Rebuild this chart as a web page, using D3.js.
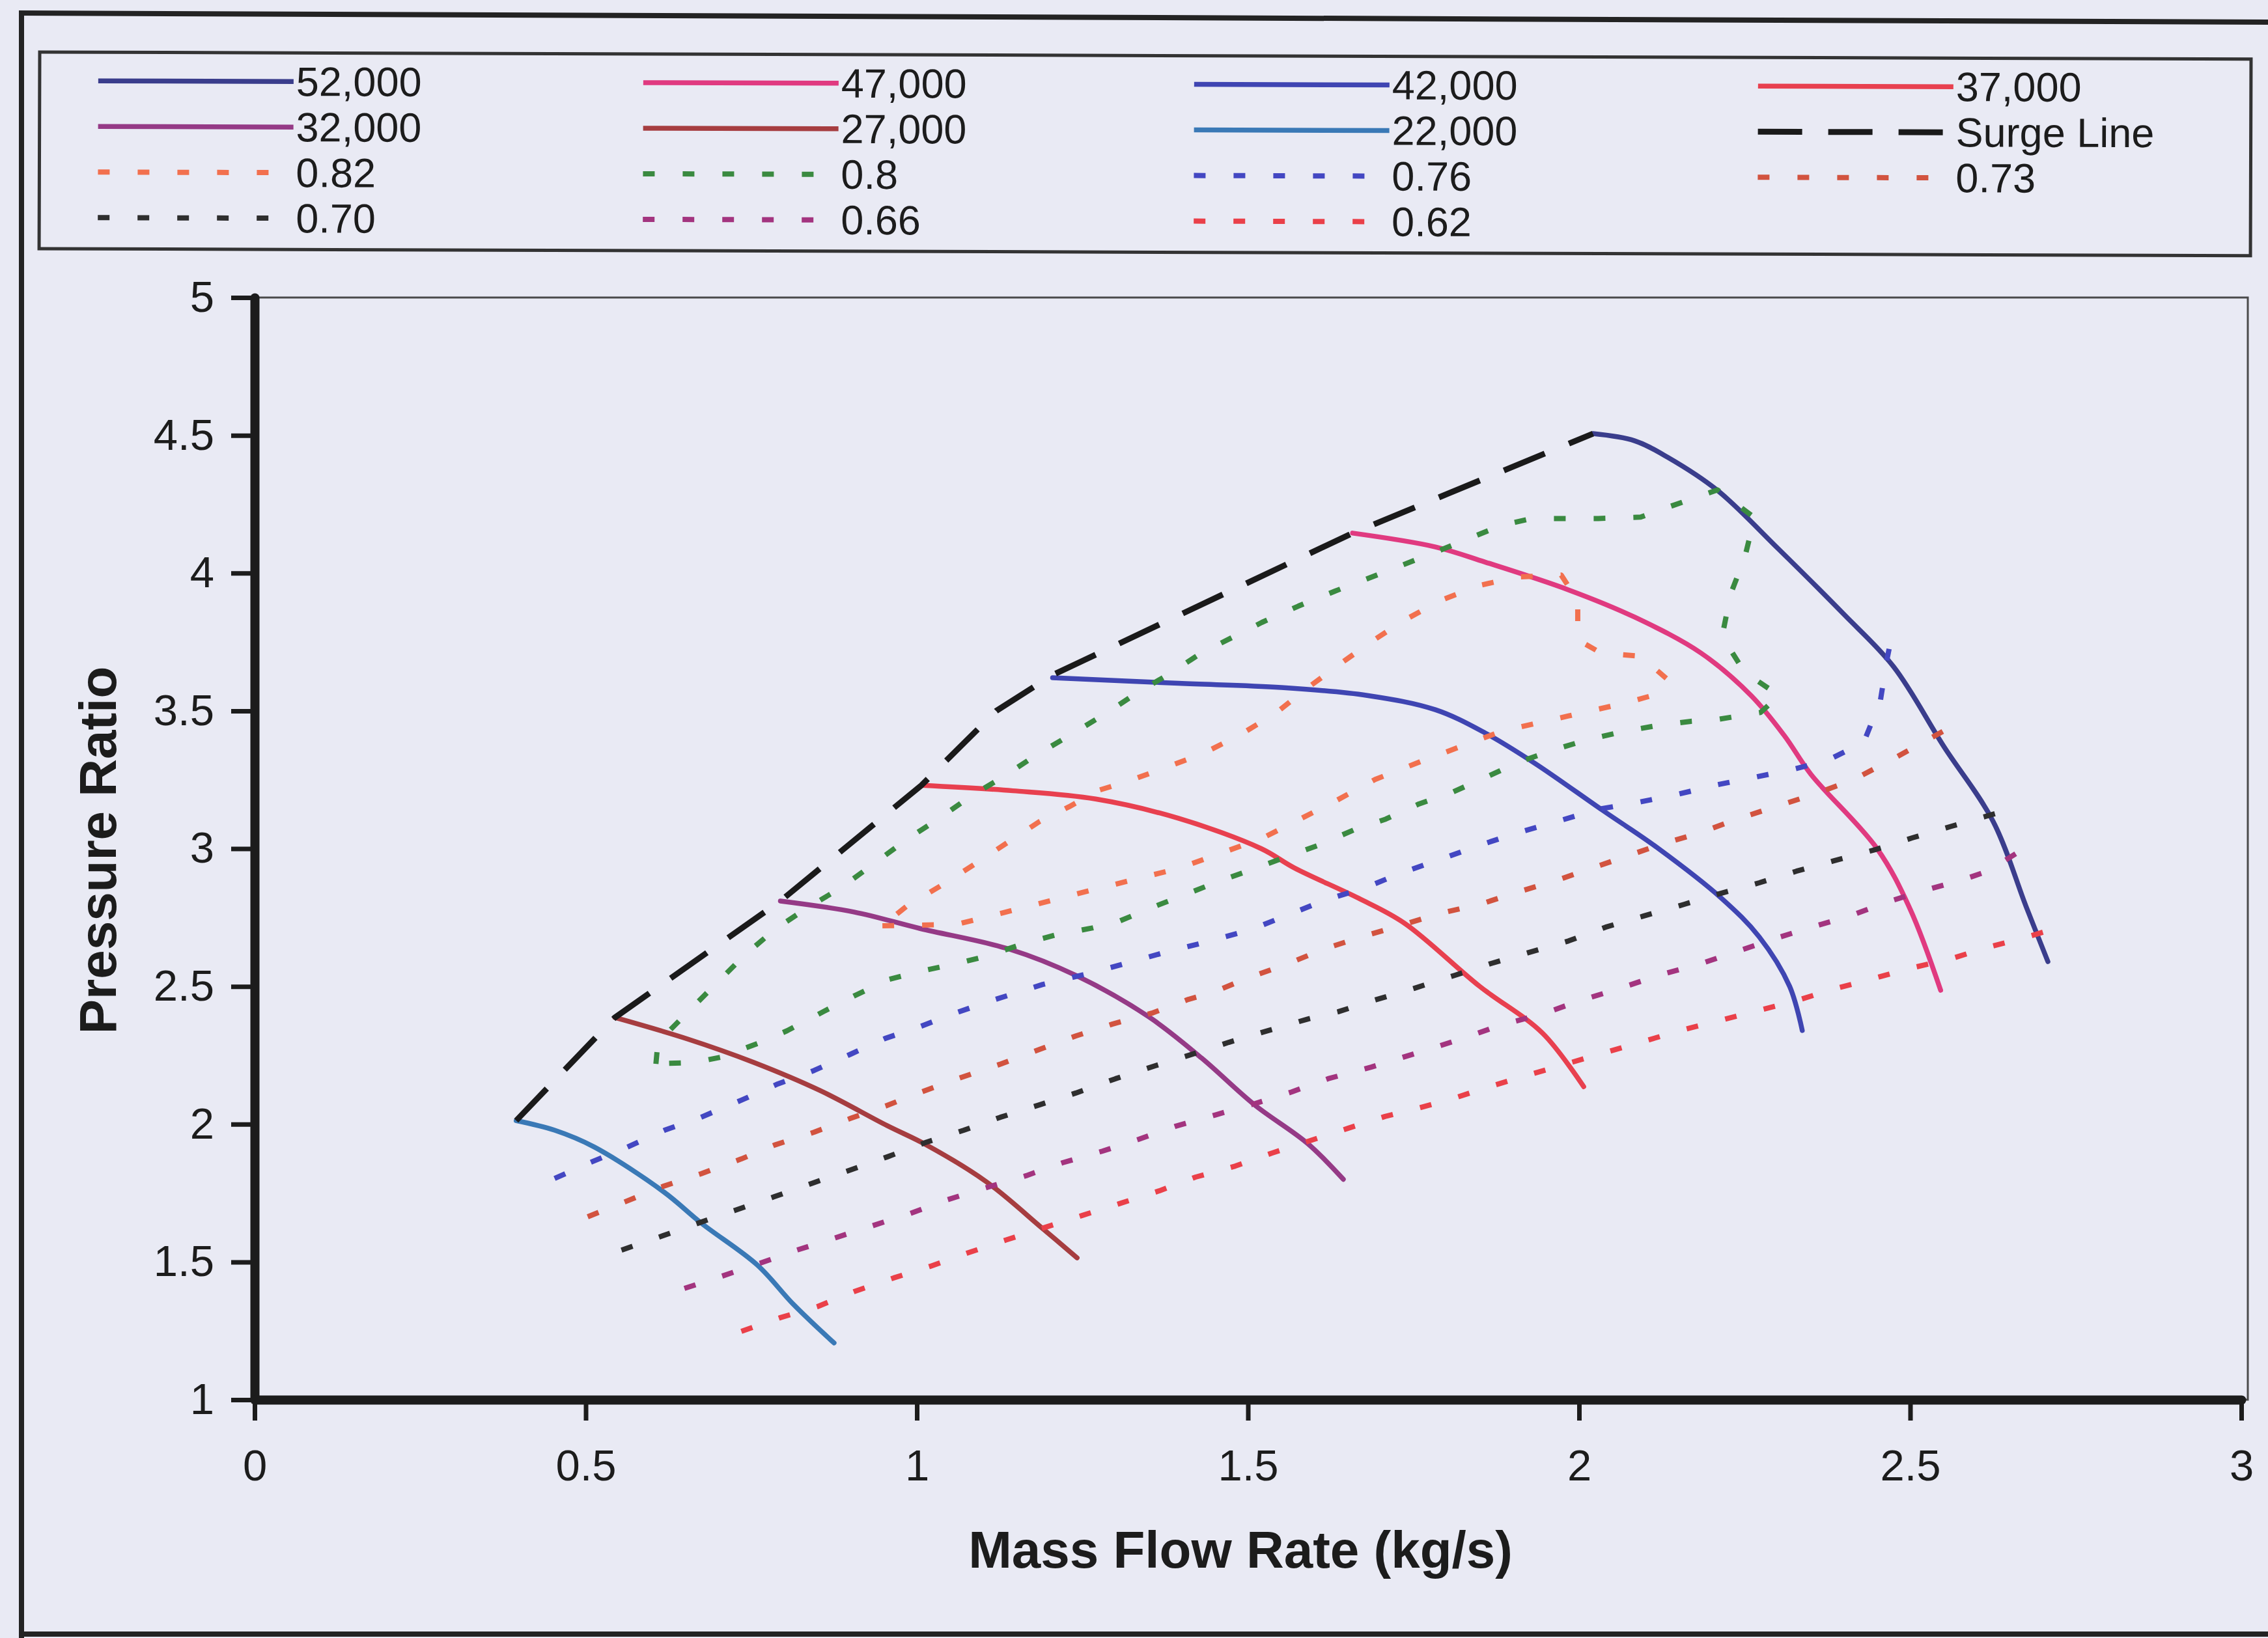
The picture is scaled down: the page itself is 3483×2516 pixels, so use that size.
<!DOCTYPE html>
<html>
<head>
<meta charset="utf-8">
<script src="https://cdn.jsdelivr.net/npm/d3@7"></script>
<style>
  html, body { margin: 0; padding: 0; background: #e9eaf4; }
  svg { display: block; }
  text { font-family: "Liberation Sans", Arial, Helvetica, sans-serif; fill: #1c1c1c; }
</style>
</head>
<body>
<svg id="chart" width="3483" height="2516"></svg>
<script>
// Compressor map: pressure ratio vs. mass flow rate, speed lines (rpm),
// surge line and iso-efficiency contours.

// ---- axis ticks ----
const xTicks = [0, 0.5, 1, 1.5, 2, 2.5, 3];
const xTickLabels = ["0", "0.5", "1", "1.5", "2", "2.5", "3"];
const yTicks = [1, 1.5, 2, 2.5, 3, 3.5, 4, 4.5, 5];
const yTickLabels = ["1", "1.5", "2", "2.5", "3", "3.5", "4", "4.5", "5"];

// ---- speed lines [mass flow kg/s, pressure ratio] ----
const speed52000 = [[2.021,4.506],[2.084,4.48],[2.134,4.42],[2.209,4.30],[2.30,4.09],[2.40,3.85],[2.475,3.66],[2.551,3.37],[2.625,3.10],[2.675,2.79],[2.708,2.59]];
const speed47000 = [[1.658,4.145],[1.783,4.095],[1.858,4.04],[1.983,3.94],[2.084,3.84],[2.184,3.71],[2.26,3.555],[2.31,3.41],[2.35,3.27],[2.45,3.0],[2.5,2.78],[2.546,2.486]];
const speed42000 = [[1.205,3.62],[1.395,3.60],[1.55,3.585],[1.68,3.556],[1.783,3.504],[1.858,3.42],[1.933,3.31],[2.035,3.14],[2.12,3.0],[2.215,2.82],[2.272,2.68],[2.318,2.50],[2.337,2.34]];
const speed37000 = [[1.007,3.23],[1.145,3.21],[1.27,3.18],[1.395,3.11],[1.52,3.0],[1.57,2.93],[1.667,2.82],[1.736,2.73],[1.85,2.50],[1.945,2.33],[2.007,2.136]];
const speed32000 = [[0.794,2.81],[0.905,2.77],[1.005,2.71],[1.14,2.635],[1.24,2.54],[1.35,2.39],[1.43,2.24],[1.51,2.07],[1.59,1.93],[1.644,1.80]];
const speed27000 = [[0.544,2.387],[0.654,2.309],[0.754,2.224],[0.854,2.122],[0.955,1.995],[1.015,1.924],[1.105,1.791],[1.19,1.621],[1.242,1.515]];
const speed22000 = [[0.395,2.013],[0.453,1.978],[0.513,1.917],[0.618,1.754],[0.675,1.640],[0.759,1.489],[0.814,1.345],[0.875,1.206]];

// ---- surge line ----
const surgeLine = [[0.395,2.013],[0.544,2.387],[0.794,2.81],[1.007,3.23],[1.12,3.50],[1.205,3.63],[1.658,4.145],[2.021,4.506]];

// ---- iso-efficiency contours ----
const eff082 = [[0.948,2.72],[1.06,2.725],[1.13,2.767],[1.265,2.85],[1.395,2.928],[1.521,3.037],[1.627,3.166],[1.692,3.251],[1.763,3.318],[1.883,3.426],[1.983,3.481],[2.069,3.528],[2.114,3.558],[2.134,3.613],[2.093,3.698],[2.033,3.71],[1.998,3.758],[1.998,3.90],[1.973,3.993],[1.908,3.986],[1.853,3.957],[1.793,3.903],[1.737,3.83],[1.687,3.752],[1.636,3.665],[1.591,3.585],[1.541,3.49],[1.486,3.41],[1.431,3.344],[1.371,3.29],[1.316,3.242],[1.275,3.212],[1.23,3.152],[1.185,3.098],[1.135,3.019],[1.085,2.94],[1.034,2.862],[0.984,2.79],[0.948,2.72]];
const eff080 = [[0.606,2.219],[0.609,2.297],[0.644,2.382],[0.689,2.491],[0.739,2.611],[0.785,2.706],[0.835,2.786],[0.885,2.857],[0.935,2.945],[0.984,3.032],[1.034,3.11],[1.08,3.188],[1.13,3.26],[1.18,3.339],[1.23,3.41],[1.285,3.49],[1.33,3.561],[1.381,3.634],[1.431,3.712],[1.486,3.778],[1.521,3.821],[1.576,3.88],[1.632,3.935],[1.682,3.981],[1.713,4.01],[1.778,4.071],[1.833,4.125],[1.883,4.173],[1.928,4.198],[2.029,4.198],[2.093,4.203],[2.139,4.243],[2.209,4.302],[2.265,4.201],[2.25,4.055],[2.229,3.925],[2.216,3.77],[2.25,3.64],[2.302,3.556],[2.274,3.494],[2.209,3.469],[2.169,3.462],[2.114,3.445],[2.069,3.426],[2.014,3.396],[1.964,3.36],[1.908,3.313],[1.863,3.263],[1.808,3.204],[1.758,3.162],[1.708,3.107],[1.662,3.07],[1.606,3.012],[1.566,2.977],[1.505,2.923],[1.461,2.886],[1.405,2.833],[1.36,2.791],[1.305,2.736],[1.265,2.712],[1.21,2.687],[1.165,2.658],[1.104,2.609],[1.064,2.585],[1.004,2.554],[0.957,2.525],[0.905,2.465],[0.86,2.41],[0.804,2.339],[0.764,2.297],[0.704,2.243],[0.664,2.224],[0.606,2.219]];
const eff076 = [[0.453,1.803],[0.508,1.862],[0.563,1.917],[0.619,1.978],[0.674,2.025],[0.735,2.087],[0.79,2.146],[0.845,2.195],[0.90,2.254],[0.952,2.311],[1.005,2.354],[1.06,2.405],[1.115,2.45],[1.19,2.507],[1.265,2.55],[1.325,2.59],[1.38,2.627],[1.44,2.663],[1.505,2.706],[1.566,2.765],[1.619,2.815],[1.677,2.858],[1.733,2.913],[1.793,2.963],[1.847,3.01],[1.908,3.058],[1.969,3.10],[2.029,3.143],[2.089,3.168],[2.149,3.197],[2.209,3.232],[2.267,3.26],[2.32,3.286],[2.375,3.32],[2.43,3.386],[2.455,3.537],[2.465,3.687],[2.475,3.806]];
const eff073 = [[0.503,1.664],[0.559,1.718],[0.614,1.772],[0.674,1.82],[0.735,1.874],[0.785,1.924],[0.845,1.971],[0.90,2.021],[0.955,2.068],[1.007,2.117],[1.064,2.167],[1.125,2.217],[1.185,2.271],[1.24,2.32],[1.295,2.363],[1.355,2.403],[1.41,2.453],[1.445,2.476],[1.50,2.531],[1.556,2.578],[1.614,2.635],[1.676,2.683],[1.736,2.725],[1.79,2.765],[1.853,2.80],[1.908,2.843],[1.964,2.883],[2.014,2.925],[2.069,2.97],[2.124,3.016],[2.181,3.056],[2.236,3.105],[2.30,3.155],[2.355,3.197],[2.415,3.251],[2.47,3.32],[2.525,3.393],[2.58,3.467]];
const eff070 = [[0.554,1.543],[0.614,1.593],[0.669,1.64],[0.725,1.687],[0.785,1.737],[0.84,1.784],[0.90,1.834],[0.955,1.881],[1.015,1.935],[1.071,1.978],[1.126,2.025],[1.185,2.07],[1.24,2.113],[1.30,2.165],[1.36,2.212],[1.411,2.25],[1.471,2.297],[1.531,2.34],[1.591,2.382],[1.636,2.408],[1.691,2.45],[1.751,2.493],[1.812,2.54],[1.867,2.583],[1.92,2.62],[1.984,2.665],[2.04,2.715],[2.097,2.755],[2.159,2.798],[2.21,2.835],[2.272,2.876],[2.328,2.918],[2.385,2.956],[2.447,2.996],[2.503,3.039],[2.562,3.081],[2.63,3.128]];
const eff066 = [[0.649,1.404],[0.704,1.447],[0.764,1.496],[0.819,1.543],[0.875,1.586],[0.935,1.633],[0.99,1.676],[1.045,1.725],[1.10,1.766],[1.165,1.813],[1.22,1.86],[1.28,1.902],[1.335,1.945],[1.39,1.992],[1.45,2.033],[1.511,2.075],[1.566,2.117],[1.621,2.165],[1.686,2.207],[1.772,2.271],[1.827,2.313],[1.882,2.36],[1.945,2.40],[2.001,2.448],[2.058,2.49],[2.12,2.54],[2.182,2.581],[2.233,2.622],[2.295,2.673],[2.351,2.715],[2.408,2.755],[2.464,2.805],[2.52,2.847],[2.583,2.89],[2.617,2.918],[2.685,3.02]];
const eff062 = [[0.735,1.248],[0.794,1.298],[0.85,1.338],[0.905,1.392],[0.965,1.442],[1.02,1.484],[1.076,1.532],[1.135,1.58],[1.25,1.669],[1.305,1.711],[1.366,1.758],[1.421,1.808],[1.481,1.848],[1.536,1.895],[1.591,1.938],[1.651,1.985],[1.707,2.028],[1.751,2.054],[1.807,2.091],[1.862,2.134],[1.92,2.176],[2.035,2.257],[2.097,2.30],[2.153,2.34],[2.215,2.378],[2.272,2.413],[2.328,2.448],[2.385,2.491],[2.441,2.526],[2.497,2.564],[2.56,2.599],[2.617,2.642],[2.673,2.677],[2.73,2.718]];

// ---- series names (legend order = drawing order) ----
const seriesNames = ["52,000","47,000","42,000","37,000","32,000","27,000","22,000","Surge Line",
                     "0.82","0.8","0.76","0.73","0.70","0.66","0.62"];
const seriesValues = [speed52000, speed47000, speed42000, speed37000, speed32000, speed27000, speed22000, surgeLine,
                      eff082, eff080, eff076, eff073, eff070, eff066, eff062];

// ---- appearance per series ----
const SOLID = "speed", SURGE = "surge", DOT = "eff";
const seriesStyle = {
  "52,000": {type: SOLID, color: "#3a3d8c"},
  "47,000": {type: SOLID, color: "#e03a80"},
  "42,000": {type: SOLID, color: "#3f45b2"},
  "37,000": {type: SOLID, color: "#e8404f"},
  "32,000": {type: SOLID, color: "#953a86"},
  "27,000": {type: SOLID, color: "#a63d40"},
  "22,000": {type: SOLID, color: "#3a79b6"},
  "Surge Line": {type: SURGE, color: "#1a1a1a"},
  "0.82": {type: DOT, color: "#f2704e"},
  "0.8":  {type: DOT, color: "#3a8a40"},
  "0.76": {type: DOT, color: "#4347c2"},
  "0.73": {type: DOT, color: "#d2533f"},
  "0.70": {type: DOT, color: "#2e2e2e"},
  "0.66": {type: DOT, color: "#a3347f"},
  "0.62": {type: DOT, color: "#ea4049"}
};
const strokeFor = {
  [SOLID]: {width: 7.5, dash: null},
  [SURGE]: {width: 9, dash: "68 40"},
  [DOT]:   {width: 8, dash: "18 43"}
};

const W = 3483, H = 2516;
const svg = d3.select("#chart");
svg.append("rect").attr("width", W).attr("height", H).attr("fill", "#e9eaf4");

// outer frame of the chart area
const frame = svg.append("g").attr("stroke", "#232323").attr("stroke-width", 8).attr("fill", "none");
frame.append("line").attr("x1", 33).attr("y1", 18).attr("x2", 33).attr("y2", H);
frame.append("line").attr("x1", 29).attr("y1", 20).attr("x2", W).attr("y2", 34);
frame.append("line").attr("x1", 29).attr("y1", 2510).attr("x2", W).attr("y2", 2510);

// scales
const x = d3.scaleLinear().domain([0, 3]).range([391, 3442]);
const y = d3.scaleLinear().domain([1, 5]).range([2150, 457]);

// plot area border
svg.append("rect")
  .attr("x", x(0)).attr("y", y(5))
  .attr("width", x(3) - x(0) + 10).attr("height", y(1) - y(5))
  .attr("fill", "none").attr("stroke", "#4a4a4a").attr("stroke-width", 3);

// axes
const fontStack = '"Liberation Sans", Arial, Helvetica, sans-serif';
const yAxis = d3.axisLeft(y).tickValues(yTicks)
  .tickFormat((d, i) => yTickLabels[i])
  .tickSizeInner(36).tickSizeOuter(0).tickPadding(26);
const gy = svg.append("g").attr("transform", `translate(${x(0)},0)`).call(yAxis);

const xAxis = d3.axisBottom(x).tickValues(xTicks)
  .tickFormat((d, i) => xTickLabels[i])
  .tickSizeInner(32).tickSizeOuter(0).tickPadding(44);
const gx = svg.append("g").attr("transform", `translate(0,${y(1)})`).call(xAxis);

[gx, gy].forEach(g => {
  g.attr("font-size", 67).attr("font-family", fontStack);
  g.select(".domain").attr("stroke", "#1c1c1c").attr("stroke-width", 14).attr("stroke-linecap", "round");
  g.selectAll(".tick line").attr("stroke", "#1c1c1c").attr("stroke-width", 7);
  g.selectAll(".tick text").attr("fill", "#1c1c1c").attr("font-size", 67);
});

// axis titles
svg.append("text")
  .attr("transform", "translate(178,1306) rotate(-90)")
  .attr("text-anchor", "middle").attr("font-weight", "bold").attr("font-size", 80)
  .text("Pressure Ratio");
svg.append("text")
  .attr("x", 1905).attr("y", 2408)
  .attr("text-anchor", "middle").attr("font-weight", "bold").attr("font-size", 80)
  .text("Mass Flow Rate (kg/s)");

// series
const straight = d3.line().x(d => x(d[0])).y(d => y(d[1]));
const smooth = d3.line().curve(d3.curveCatmullRom.alpha(0.5)).x(d => x(d[0])).y(d => y(d[1]));

const plot = svg.append("g").attr("fill", "none");
seriesNames.forEach((name, i) => {
  const st = seriesStyle[name];
  const sk = strokeFor[st.type];
  plot.append("path")
    .attr("d", (st.type === SOLID ? smooth : straight)(seriesValues[i]))
    .attr("stroke", st.color)
    .attr("stroke-width", sk.width)
    .attr("stroke-dasharray", sk.dash)
    .attr("stroke-linejoin", "round")
    .attr("stroke-linecap", st.type === SOLID ? "round" : "butt");
});

// legend
const legend = svg.append("g").attr("transform", "rotate(0.18,61,80)");
legend.append("rect")
  .attr("x", 61).attr("y", 80).attr("width", 3396).attr("height", 302)
  .attr("fill", "none").attr("stroke", "#333").attr("stroke-width", 5);

const legendColX = [151, 988, 1834, 2700];
const legendRowBase = [146, 216, 286, 356];
const legendLineLen = 300;
seriesNames.forEach((name, i) => {
  const st = seriesStyle[name];
  const sk = strokeFor[st.type];
  const cx = legendColX[i % 4], base = legendRowBase[Math.floor(i / 4)];
  const ly = base - 22;
  legend.append("line")
    .attr("x1", cx).attr("x2", cx + legendLineLen)
    .attr("y1", ly).attr("y2", ly)
    .attr("stroke", st.color).attr("stroke-width", sk.width)
    .attr("stroke-dasharray", sk.dash);
  legend.append("text")
    .attr("x", cx + legendLineLen + 4).attr("y", base)
    .attr("font-size", 63)
    .text(name);
});
</script>
</body>
</html>
